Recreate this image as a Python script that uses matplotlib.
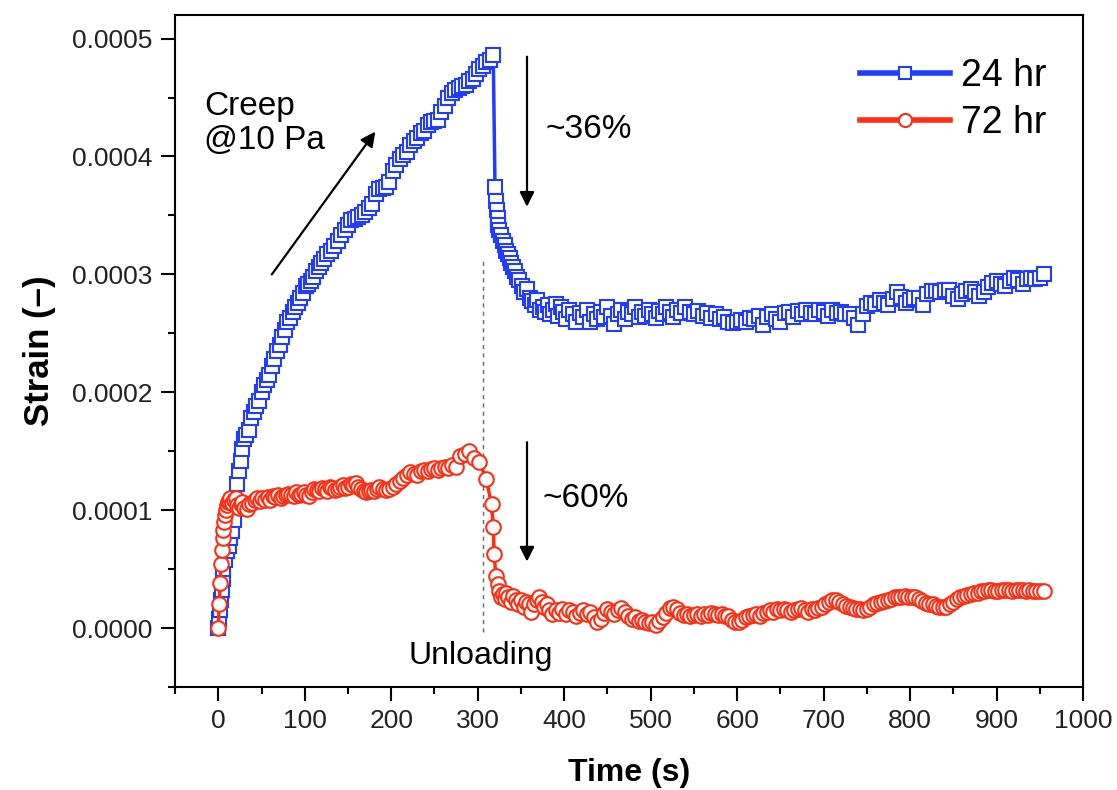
import numpy as np
import matplotlib
matplotlib.use("Agg")
import matplotlib.pyplot as plt

plt.rcParams['font.family'] = ['Liberation Sans', 'DejaVu Sans']

# ---------------- data ----------------
# 24 hr series (strain in units of 1e-4)
t24 = [0, 1, 2, 3, 4, 5, 6, 8, 10, 12, 14, 16, 18, 20, 22, 24, 26, 28, 30, 32,
       35, 38, 41, 44, 47, 50, 53, 56, 59, 62, 65, 68, 71, 74, 77, 80, 83, 86, 89, 92,
       95, 98, 101, 104, 107, 110, 113, 116, 119, 122, 126, 130, 134, 138, 142, 146, 150, 154, 158, 162,
       166, 170, 174, 178, 182, 186, 190, 194, 198, 202, 206, 210, 214, 218, 222, 226, 230, 234, 238, 242,
       246, 250, 254, 258, 262, 266, 270, 274, 278, 282, 286, 290, 294, 298, 302, 306, 310, 314, 318,
       320, 321, 322, 323, 324, 325, 327, 329, 331, 333, 335, 337, 339, 341, 343, 345, 348, 351, 354, 357,
       360, 363, 366, 369, 372, 375, 378, 381, 384, 387, 390, 393, 396, 399, 402, 406, 410, 414, 418, 422,
       426, 430, 434, 438, 442, 446, 450, 454, 458, 462, 466, 470, 474, 478, 482, 486, 490, 494, 498, 502,
       506, 510, 514, 518, 522, 526, 530, 535, 540, 545, 550, 555, 560, 565, 570, 575, 580, 585, 590, 595,
       600, 605, 610, 615, 620, 625, 630, 635, 640, 645, 650, 655, 660, 665, 670, 675, 680, 685, 690, 695,
       700, 705, 710, 715, 720, 725, 730, 735, 740, 745, 750, 755, 760, 765, 770, 775, 780, 785, 790, 795,
       800, 805, 810, 815, 820, 825, 830, 835, 840, 845, 850, 855, 860, 865, 870, 875, 880, 885, 890, 895,
       900, 905, 910, 915, 920, 925, 930, 935, 940, 945, 950, 955]
s24 = [0.0, 0.08, 0.15, 0.24, 0.32, 0.42, 0.5, 0.58, 0.65, 0.7, 0.76, 0.82, 0.92, 1.05, 1.22, 1.33, 1.42, 1.52, 1.6, 1.64,
       1.68, 1.78, 1.83, 1.88, 1.93, 2.0, 2.06, 2.1, 2.15, 2.22, 2.28, 2.35, 2.4, 2.47, 2.53, 2.6, 2.63, 2.68, 2.72, 2.76,
       2.8, 2.84, 2.9, 2.92, 2.94, 2.98, 3.03, 3.06, 3.1, 3.13, 3.17, 3.2, 3.24, 3.28, 3.33, 3.38, 3.42, 3.46, 3.47, 3.49,
       3.5, 3.53, 3.56, 3.6, 3.68, 3.72, 3.73, 3.74, 3.78, 3.88, 3.93, 3.98, 4.01, 4.04, 4.1, 4.13, 4.16, 4.2, 4.22, 4.27,
       4.29, 4.3, 4.31, 4.38, 4.43, 4.5, 4.54, 4.56, 4.58, 4.6, 4.61, 4.64, 4.66, 4.7, 4.74, 4.77, 4.8, 4.82, 4.86,
       3.74, 3.62, 3.55, 3.48, 3.42, 3.38, 3.33, 3.28, 3.25, 3.2, 3.17, 3.14, 3.1, 3.06, 3.03, 2.98, 2.95, 2.9, 2.85, 2.88,
       2.8, 2.77, 2.74, 2.78, 2.7, 2.72, 2.68, 2.74, 2.66, 2.7, 2.75, 2.65, 2.72, 2.68, 2.62, 2.7, 2.66, 2.6, 2.67, 2.64,
       2.7, 2.6, 2.66, 2.62, 2.68, 2.64, 2.72, 2.65, 2.58, 2.66, 2.7, 2.62, 2.68, 2.66, 2.72, 2.64, 2.68, 2.65, 2.7, 2.66,
       2.63, 2.69, 2.66, 2.72, 2.68, 2.64, 2.7, 2.67, 2.72, 2.68, 2.66, 2.69, 2.65, 2.67, 2.63, 2.66, 2.62, 2.64, 2.6, 2.59,
       2.6, 2.61, 2.6, 2.63, 2.62, 2.65, 2.57, 2.64, 2.66, 2.62, 2.6, 2.67, 2.68, 2.64, 2.69, 2.66, 2.7, 2.67, 2.66, 2.7,
       2.68, 2.65, 2.7, 2.67, 2.68, 2.66, 2.66, 2.63, 2.57, 2.66, 2.73, 2.76, 2.75, 2.78, 2.76, 2.74, 2.79, 2.85, 2.81, 2.76,
       2.78, 2.8, 2.8, 2.74, 2.83, 2.86, 2.86, 2.85, 2.87, 2.87, 2.82, 2.79, 2.83, 2.86, 2.88, 2.85, 2.82, 2.85, 2.89, 2.93,
       2.94, 2.92, 2.9, 2.94, 2.97, 2.95, 2.92, 2.96, 2.97, 2.96, 2.97, 3.0]

# 72 hr series (strain in units of 1e-4)
t72 = [0, 1, 2, 3, 4, 5, 6, 7, 8, 9, 10, 11, 12, 14, 16, 18, 20, 22, 24, 26,
       28, 30, 33, 36, 39, 42, 45, 48, 51, 54, 57, 60, 63, 66, 69, 72, 75, 78, 81, 84,
       87, 90, 93, 96, 99, 102, 105, 108, 111, 114, 117, 120, 123, 126, 129, 132, 135, 138, 141, 144,
       147, 150, 153, 156, 159, 162, 165, 168, 171, 174, 177, 180, 183, 186, 190, 194, 198, 202, 206, 210,
       214, 218, 222, 226, 230, 234, 238, 242, 246, 250, 254, 258, 262, 266, 270, 275, 280, 285, 290, 296,
       302, 310, 316, 318, 319, 321, 323, 325, 327, 329, 331, 333, 335, 338, 341, 344, 347, 350, 353, 356,
       359, 362, 365, 368, 371, 374, 377, 380, 383, 386, 390, 394, 398, 402, 406, 410, 414, 418, 422, 426,
       430, 434, 438, 442, 446, 450, 454, 458, 462, 466, 470, 474, 478, 482, 486, 490, 494, 498, 502, 506,
       510, 514, 518, 522, 526, 530, 534, 538, 542, 546, 550, 554, 558, 562, 566, 570, 574, 578, 582, 586,
       590, 594, 598, 602, 606, 610, 614, 618, 622, 626, 630, 634, 638, 642, 646, 650, 654, 658, 662, 666,
       670, 674, 678, 682, 686, 690, 694, 698, 702, 706, 710, 714, 718, 722, 726, 730, 734, 738, 742, 746,
       750, 754, 758, 762, 766, 770, 774, 778, 782, 786, 790, 794, 798, 802, 806, 810, 814, 818, 822, 826,
       830, 834, 838, 842, 846, 850, 854, 858, 862, 866, 870, 874, 878, 882, 886, 890, 894, 898, 902, 906,
       910, 914, 918, 922, 926, 930, 934, 938, 942, 946, 950, 955]
s72 = [0.0, 0.2, 0.38, 0.54, 0.66, 0.76, 0.83, 0.9, 0.96, 1.0, 1.04, 1.07, 1.08, 1.1, 1.06, 1.09, 1.1, 1.04, 1.02, 1.05,
       1.07, 1.02, 1.01, 1.05, 1.06, 1.09, 1.1, 1.08, 1.1, 1.09, 1.11, 1.09, 1.12, 1.11, 1.13, 1.1, 1.12, 1.13, 1.14, 1.13,
       1.12, 1.15, 1.13, 1.14, 1.15, 1.13, 1.12, 1.15, 1.18, 1.17, 1.16, 1.19, 1.18, 1.16, 1.2, 1.19, 1.17, 1.18, 1.2, 1.21,
       1.19, 1.2, 1.22, 1.21, 1.23, 1.2, 1.18, 1.16, 1.15, 1.16, 1.17, 1.16, 1.18, 1.2, 1.18, 1.17, 1.18, 1.2, 1.22, 1.25,
       1.27, 1.3, 1.32, 1.31, 1.3, 1.33, 1.34, 1.33, 1.35, 1.36, 1.34, 1.36, 1.37, 1.36, 1.38, 1.37, 1.46, 1.48, 1.5, 1.44,
       1.41, 1.26, 1.05, 0.86, 0.63, 0.44, 0.37, 0.31, 0.26, 0.29, 0.25, 0.3, 0.26, 0.22, 0.27, 0.24, 0.2, 0.24, 0.18, 0.22,
       0.2, 0.14, 0.2, 0.24, 0.26, 0.22, 0.18, 0.2, 0.15, 0.12, 0.15, 0.13, 0.16, 0.12, 0.15, 0.14, 0.1, 0.13, 0.15, 0.12,
       0.14, 0.09, 0.05, 0.08, 0.13, 0.16, 0.14, 0.12, 0.15, 0.17, 0.14, 0.1, 0.08, 0.09, 0.06, 0.07, 0.05, 0.04, 0.05, 0.03,
       0.06, 0.09, 0.13, 0.17, 0.18, 0.16, 0.13, 0.11, 0.12, 0.1, 0.11, 0.12, 0.1, 0.12, 0.11, 0.13, 0.12, 0.11, 0.12, 0.1,
       0.1, 0.07, 0.05, 0.05, 0.07, 0.09, 0.1, 0.11, 0.12, 0.1, 0.13, 0.14, 0.15, 0.14, 0.16, 0.15, 0.16, 0.15, 0.14, 0.15,
       0.16, 0.17, 0.15, 0.14, 0.16, 0.15, 0.17, 0.18, 0.2, 0.22, 0.24, 0.24, 0.22, 0.2, 0.19, 0.18, 0.17, 0.16, 0.16, 0.155,
       0.16, 0.18, 0.2, 0.21, 0.22, 0.23, 0.24, 0.25, 0.26, 0.26, 0.26, 0.27, 0.26, 0.26, 0.26, 0.25, 0.23, 0.21, 0.2, 0.2,
       0.19, 0.18, 0.18, 0.18, 0.2, 0.22, 0.25, 0.26, 0.27, 0.28, 0.29, 0.3, 0.3, 0.31, 0.31, 0.32, 0.32, 0.31, 0.31, 0.32,
       0.32, 0.32, 0.31, 0.32, 0.32, 0.32, 0.31, 0.32, 0.31, 0.31, 0.31, 0.31]

labels = ["24 hr", "72 hr"]
xticks = [0, 100, 200, 300, 400, 500, 600, 700, 800, 900, 1000]
yticks = [0.0, 0.0001, 0.0002, 0.0003, 0.0004, 0.0005]

BLUE = '#1f3cff'
RED = '#ff2d12'

# ---------------- figure ----------------
fig = plt.figure(figsize=(11.17, 7.90), dpi=100)
ax = fig.add_axes([0.1567, 0.1304, 0.8129, 0.8506])

ax.plot(t24, np.array(s24) * 1e-4, '-', color=BLUE, lw=2.5, marker='s', ms=10,
        mfc='white', mec=BLUE, mew=1.5, label=labels[0], zorder=3)
ax.plot(t72, np.array(s72) * 1e-4, '-', color=RED, lw=2.5, marker='o', ms=10.5,
        mfc='white', mec=RED, mew=1.5, label=labels[1], zorder=4)

# unloading line
ax.plot([306, 306], [-0.000003, 0.000314], ls=(0, (3, 3)), color='#666666', lw=1.0, zorder=2)

ax.set_xlim(-50, 1000)
ax.set_ylim(-0.00005, 0.00052)
ax.set_xticks(xticks)
ax.set_yticks(yticks)
ax.set_xticklabels([str(v) for v in xticks])
ax.set_yticklabels([f"{v:.4f}" for v in yticks])
ax.set_xticks(np.arange(-50, 1001, 50), minor=True)
ax.set_yticks(np.arange(-0.00005, 0.00052, 0.00005), minor=True)

ax.tick_params(axis='both', which='major', direction='out', length=10, width=1.5,
               labelsize=19, pad=6, top=False, right=False, labelcolor='#222222')
ax.tick_params(axis='both', which='minor', direction='out', length=5, width=1.5,
               top=False, right=False)
for sp in ax.spines.values():
    sp.set_linewidth(1.5)

ax.set_xlabel("Time (s)", fontsize=23, fontweight='bold', labelpad=18)
ax.set_ylabel("Strain (\u2013)", fontsize=25, fontweight='bold', labelpad=12)

# annotations
ax.text(-16, 0.000428, "Creep\n@10 Pa", fontsize=24, ha='left', va='center', linespacing=1.15)
ax.annotate("", xy=(183.5, 0.000423), xytext=(60, 0.000298),
            arrowprops=dict(arrowstyle='-|>', color='black', lw=1.6, mutation_scale=22))
ax.annotate("", xy=(357, 0.000355), xytext=(357, 0.000487),
            arrowprops=dict(arrowstyle='-|>', color='black', lw=1.6, mutation_scale=22))
ax.text(378, 0.000423, "~36%", fontsize=24, ha='left', va='center')
ax.annotate("", xy=(357, 0.000054), xytext=(357, 0.00016),
            arrowprops=dict(arrowstyle='-|>', color='black', lw=1.6, mutation_scale=22))
ax.text(375, 0.000110, "~60%", fontsize=24, ha='left', va='center')
ax.text(303, -0.000024, "Unloading", fontsize=23, ha='center', va='center')

leg = ax.legend(loc='upper left', bbox_to_anchor=(0.725, 0.975), frameon=False,
                fontsize=27, handlelength=2.4, handletextpad=0.3, labelspacing=0.3,
                borderpad=0.2, markerscale=0.9)
for line in leg.get_lines():
    line.set_linewidth(4)

fig.savefig("out.png", dpi=100)
